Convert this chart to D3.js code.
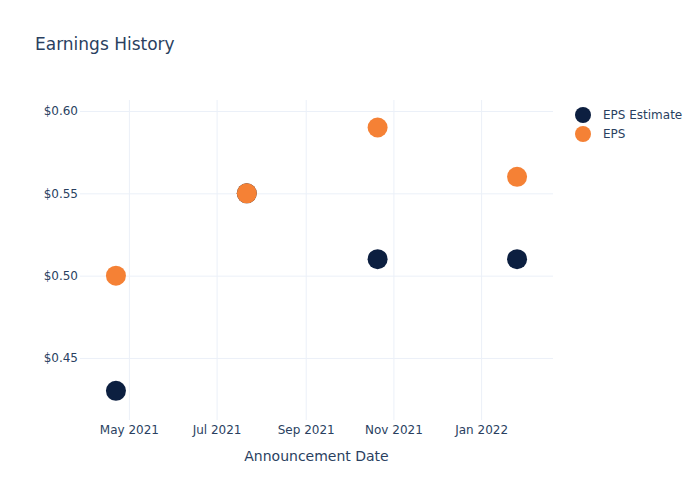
<!DOCTYPE html>
<html><head><meta charset="utf-8">
<script src="https://cdn.jsdelivr.net/npm/d3@7"></script>
<style>body{margin:0;background:#fff}svg{display:block}</style>
</head><body><svg id="c" width="700" height="500"></svg>
<script>
const dates = ["2021-04-22","2021-07-22","2021-10-21","2022-01-26"];
const epsEstimate = [0.43, 0.55, 0.51, 0.51];
const eps = [0.50, 0.55, 0.59, 0.56];
const yTicks = [0.45, 0.50, 0.55, 0.60];
const xTicks = ["2021-05-01","2021-07-01","2021-09-01","2021-11-01","2022-01-01"];
const seriesNames = ["EPS Estimate","EPS"];
const colors = ["#0c1f40","#f58135"];

const font = "'DejaVu Sans', Verdana, sans-serif";
const txt = "#2a3f5f", grid = "#ebf0f8";
const svg = d3.select("#c");
const parse = d3.utcParse("%Y-%m-%d");
const L=80, R=553, T=100, B=420;
const x = d3.scaleUtc().domain([parse("2021-03-28"), parse("2022-02-20")]).range([L,R]);
const y = d3.scaleLinear().domain([0.4123, 0.6067]).range([B,T]);

svg.append("text").attr("x",35).attr("y",50).attr("font-family",font).attr("font-size",17).attr("fill",txt).text("Earnings History");

const xAxis = d3.axisBottom(x).tickValues(xTicks.map(parse)).tickFormat(d3.utcFormat("%b %Y")).tickSize(-(B-T)).tickPadding(5);
const gx = svg.append("g").attr("transform",`translate(0,${B})`).call(xAxis);
gx.select(".domain").remove();
gx.selectAll("line").attr("stroke",grid);
gx.selectAll("text").attr("font-family",font).attr("font-size",12).attr("fill",txt);

const yAxis = d3.axisLeft(y).tickValues(yTicks).tickFormat(d=>"$"+d.toFixed(2)).tickSize(-(R-L)).tickPadding(2);
const gy = svg.append("g").attr("transform",`translate(${L},0)`).call(yAxis);
gy.select(".domain").remove();
gy.selectAll("line").attr("stroke",grid);
gy.selectAll("text").attr("font-family",font).attr("font-size",12).attr("fill",txt);

svg.append("text").attr("x",(L+R)/2).attr("y",461).attr("text-anchor","middle").attr("font-family",font).attr("font-size",14).attr("fill",txt).text("Announcement Date");

[epsEstimate, eps].forEach((vals,i)=>{
  svg.append("g").selectAll("circle").data(vals).join("circle")
    .attr("cx",(d,j)=>x(parse(dates[j]))).attr("cy",d=>y(d)).attr("r",10)
    .attr("fill",colors[i]);
});

const lg = svg.append("g");
seriesNames.forEach((n,i)=>{
  lg.append("circle").attr("cx",583).attr("cy",115+i*19).attr("r",8).attr("fill",colors[i]);
  lg.append("text").attr("x",603).attr("y",119+i*19).attr("font-family",font).attr("font-size",12).attr("fill",txt).text(n);
});
</script></body></html>
